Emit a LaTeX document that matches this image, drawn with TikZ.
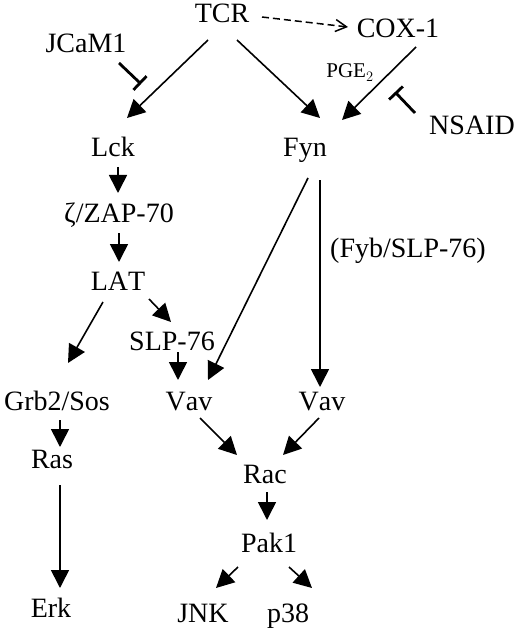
\documentclass[tikz,border=0pt]{standalone}
\usepackage{fontspec}
\setmainfont{Liberation Serif}[Kerning=Off]
\usetikzlibrary{arrows.meta,calc}
\begin{document}
\begin{tikzpicture}[x=1pt,y=-1pt,
  lbl/.style={anchor=base,inner sep=0pt,font=\fontsize{28}{30}\selectfont},
  small/.style={anchor=base,inner sep=0pt,font=\fontsize{21}{23}\selectfont},
  arr/.style={line width=1.6pt,-{Triangle[length=18pt,width=18pt]}},
  dasharr/.style={line width=1.5pt,dash pattern=on 7pt off 4pt,-{Straight Barb[length=11pt,width=12pt,line width=1.5pt]}},
  inhib/.style={line width=2.8pt,-{Bar[width=19pt,line width=2.8pt]}}]
\useasboundingbox (0,0) rectangle (520,631);
% nodes
\node[lbl] (tcr) at (222,23) {TCR};
\node[lbl] (cox) at (398,38) {COX-1};
\node[lbl] (jcam) at (86,53) {JCaM1};
\node[lbl] (lck) at (113,157) {Lck};
\node[lbl] (fyn) at (305,157) {Fyn};
\node[lbl] (nsaid) at (472,135) {NSAID};
\node[small] (pge) at (350,78) {PGE$_2$};
\node[lbl] (zap) at (119,222) {ζ/ZAP-70};
\node[lbl] (lat) at (118,290) {LAT};
\node[lbl] (slp) at (172,350) {SLP-76};
\node[lbl] (fyb) at (408,257) {(Fyb/SLP-76)};
\node[lbl] (grb) at (57,410) {Grb2/Sos};
\node[lbl] (vava) at (189,410) {Vav};
\node[lbl] (vavb) at (322,410) {Vav};
\node[lbl] (ras) at (52,468) {Ras};
\node[lbl] (rac) at (265,483) {Rac};
\node[lbl] (pak) at (269,552) {Pak1};
\node[lbl] (erk) at (51,617) {Erk};
\node[lbl] (jnk) at (203,622) {JNK};
\node[lbl] (p38) at (288,622) {p38};
% inhibition targets
\coordinate (jbar) at (141,84);
\coordinate (nbar) at (395,92);
% connectors
\draw[dasharr] ($(tcr.base)+(40,-6)$) -- ($(cox.base)+(-50,-11)$);
\draw[arr] ($(tcr.base)+(-14,17)$) -- ($(lck.base)+(14,-39)$);
\draw[arr] ($(tcr.base)+(15,17)$) -- ($(fyn.base)+(15,-39)$);
\draw[arr] ($(cox.base)+(18,9)$) -- ($(fyn.base)+(37,-37)$);
\draw[inhib] ($(jcam.base)+(33,10)$) -- (jbar);
\draw[inhib] ($(nsaid.base)+(-57,-22)$) -- (nbar);
\draw[arr] ($(lck.base)+(5,10)$) -- ($(zap.base)+(-1,-29)$);
\draw[arr] ($(zap.base)+(0,11)$) -- ($(lat.base)+(1,-28)$);
\draw[arr] ($(lat.base)+(31,9)$) -- ($(slp.base)+(-1,-28)$);
\draw[arr] ($(lat.base)+(-15,12)$) -- ($(grb.base)+(11,-47)$);
\draw[arr] ($(slp.base)+(6,2)$) -- ($(vava.base)+(-11,-30)$);
\draw[arr] ($(fyn.base)+(3,21)$) -- ($(vava.base)+(19,-30)$);
\draw[arr] ($(fyn.base)+(15,23)$) -- ($(vavb.base)+(-2,-23)$);
\draw[arr] ($(grb.base)+(3,10)$) -- ($(ras.base)+(8,-21)$);
\draw[arr] ($(ras.base)+(8,17)$) -- ($(erk.base)+(9,-29)$);
\draw[arr] ($(vava.base)+(11,8)$) -- ($(rac.base)+(-28,-28)$);
\draw[arr] ($(vavb.base)+(-3,8)$) -- ($(rac.base)+(18,-28)$);
\draw[arr] ($(rac.base)+(2,9)$) -- ($(pak.base)+(-2,-32)$);
\draw[arr] ($(pak.base)+(-31,15)$) -- ($(jnk.base)+(13,-34)$);
\draw[arr] ($(pak.base)+(20,15)$) -- ($(p38.base)+(24,-34)$);
\end{tikzpicture}
\end{document}
